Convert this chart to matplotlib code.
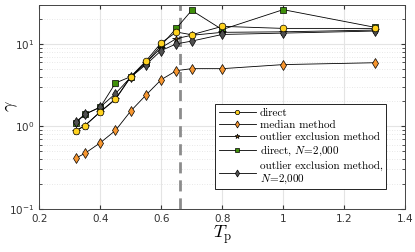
import matplotlib
matplotlib.use("Agg")
import matplotlib.pyplot as plt
import numpy as np

plt.rcParams['mathtext.fontset'] = 'cm'
plt.rcParams['axes.formatter.use_mathtext'] = True

# period values T_p
tp = [0.32, 0.35, 0.4, 0.45, 0.5, 0.55, 0.6, 0.65, 0.7, 0.8, 1.0, 1.3]

# gamma estimates for each method
direct = [0.88, 1.02, 1.5, 2.15, 4.0, 6.2, 10.3, 13.9, 12.9, 16.3, 15.4, 15.4]
median = [0.41, 0.47, 0.63, 0.89, 1.53, 2.39, 3.68, 4.73, 5.0, 5.0, 5.6, 5.9]
outlier = [0.88, 1.02, 1.49, 2.12, 3.95, 5.9, 9.0, 11.6, 12.7, 13.8, 14.0, 14.7]
direct_2000 = [1.1, 1.4, 1.7, 3.35, 4.0, 5.9, 9.6, 15.5, 25.5, 14.9, 26.0, 15.9]
outlier_2000 = [1.13, 1.4, 1.71, 2.49, 3.95, 5.6, 8.3, 10.0, 10.8, 13.0, 13.5, 14.3]

labels = ['direct', 'median method', 'outlier exclusion method',
          r'direct, $N\!=\!2{,}000$',
          'outlier exclusion method,\n' + r'$N\!=\!2{,}000$']

fig = plt.figure(figsize=(4.15, 2.52), dpi=100)
ax = fig.add_axes([0.0947, 0.172, 0.8813, 0.81])

lw = 0.6
ax.plot(tp, direct, '-o', color='k', lw=lw, ms=4.8, mfc='#FFD21F', mec='k', mew=0.5, label=labels[0], zorder=6)
ax.plot(tp, median, '-d', color='k', lw=lw, ms=5.5, mfc='#F7962F', mec='k', mew=0.5, label=labels[1], zorder=5)
ax.plot(tp, outlier, '-*', color='k', lw=lw, ms=5.5, mfc='#8A5A10', mec='k', mew=0.5, label=labels[2], zorder=4)
ax.plot(tp, direct_2000, '-s', color='k', lw=lw, ms=4.2, mfc='#3F8F0A', mec='k', mew=0.5, label=labels[3], zorder=3)
ax.plot(tp, outlier_2000, '-d', color='k', lw=lw, ms=5.5, mfc='#505050', mec='k', mew=0.5, label=labels[4], zorder=5)

ax.axvline(0.66, color='#8c8c8c', lw=2, ls=(0, (4, 2.5)), zorder=2)

ax.set_yscale('log')
ax.set_xlim(0.2, 1.4)
ax.set_ylim(0.1, 30)
ax.set_xticks([0.2, 0.4, 0.6, 0.8, 1.0, 1.2, 1.4])
ax.set_xticklabels(['0.2', '0.4', '0.6', '0.8', '1', '1.2', '1.4'])

ax.grid(True, which='major', color='#e4e4e4', lw=0.8)
ax.grid(True, which='minor', axis='y', color='#e0e0e0', lw=0.6, ls=(0, (1, 2)))
ax.set_axisbelow(True)
ax.tick_params(which='both', direction='in', top=True, right=True, labelsize=7.5,
               colors='#333333', length=3)
ax.tick_params(which='minor', length=2)
for s in ax.spines.values():
    s.set_color('#444444')
    s.set_linewidth(0.7)

ax.set_xlabel(r'$T_{\mathrm{p}}$', fontsize=13, labelpad=0)
ax.set_ylabel(r'$\gamma$', fontsize=13)
ax.yaxis.set_label_coords(-0.052, 0.5)

leg = ax.legend(loc='lower right', bbox_to_anchor=(0.948, 0.096), borderaxespad=0,
                prop={'family': 'cmr10', 'size': 8}, fancybox=False,
                framealpha=1, edgecolor='k', handlelength=3.4, handletextpad=0.3,
                labelspacing=0.2, borderpad=0.3, markerscale=0.65)
leg.get_frame().set_linewidth(0.6)

fig.savefig('out.png', dpi=100)
